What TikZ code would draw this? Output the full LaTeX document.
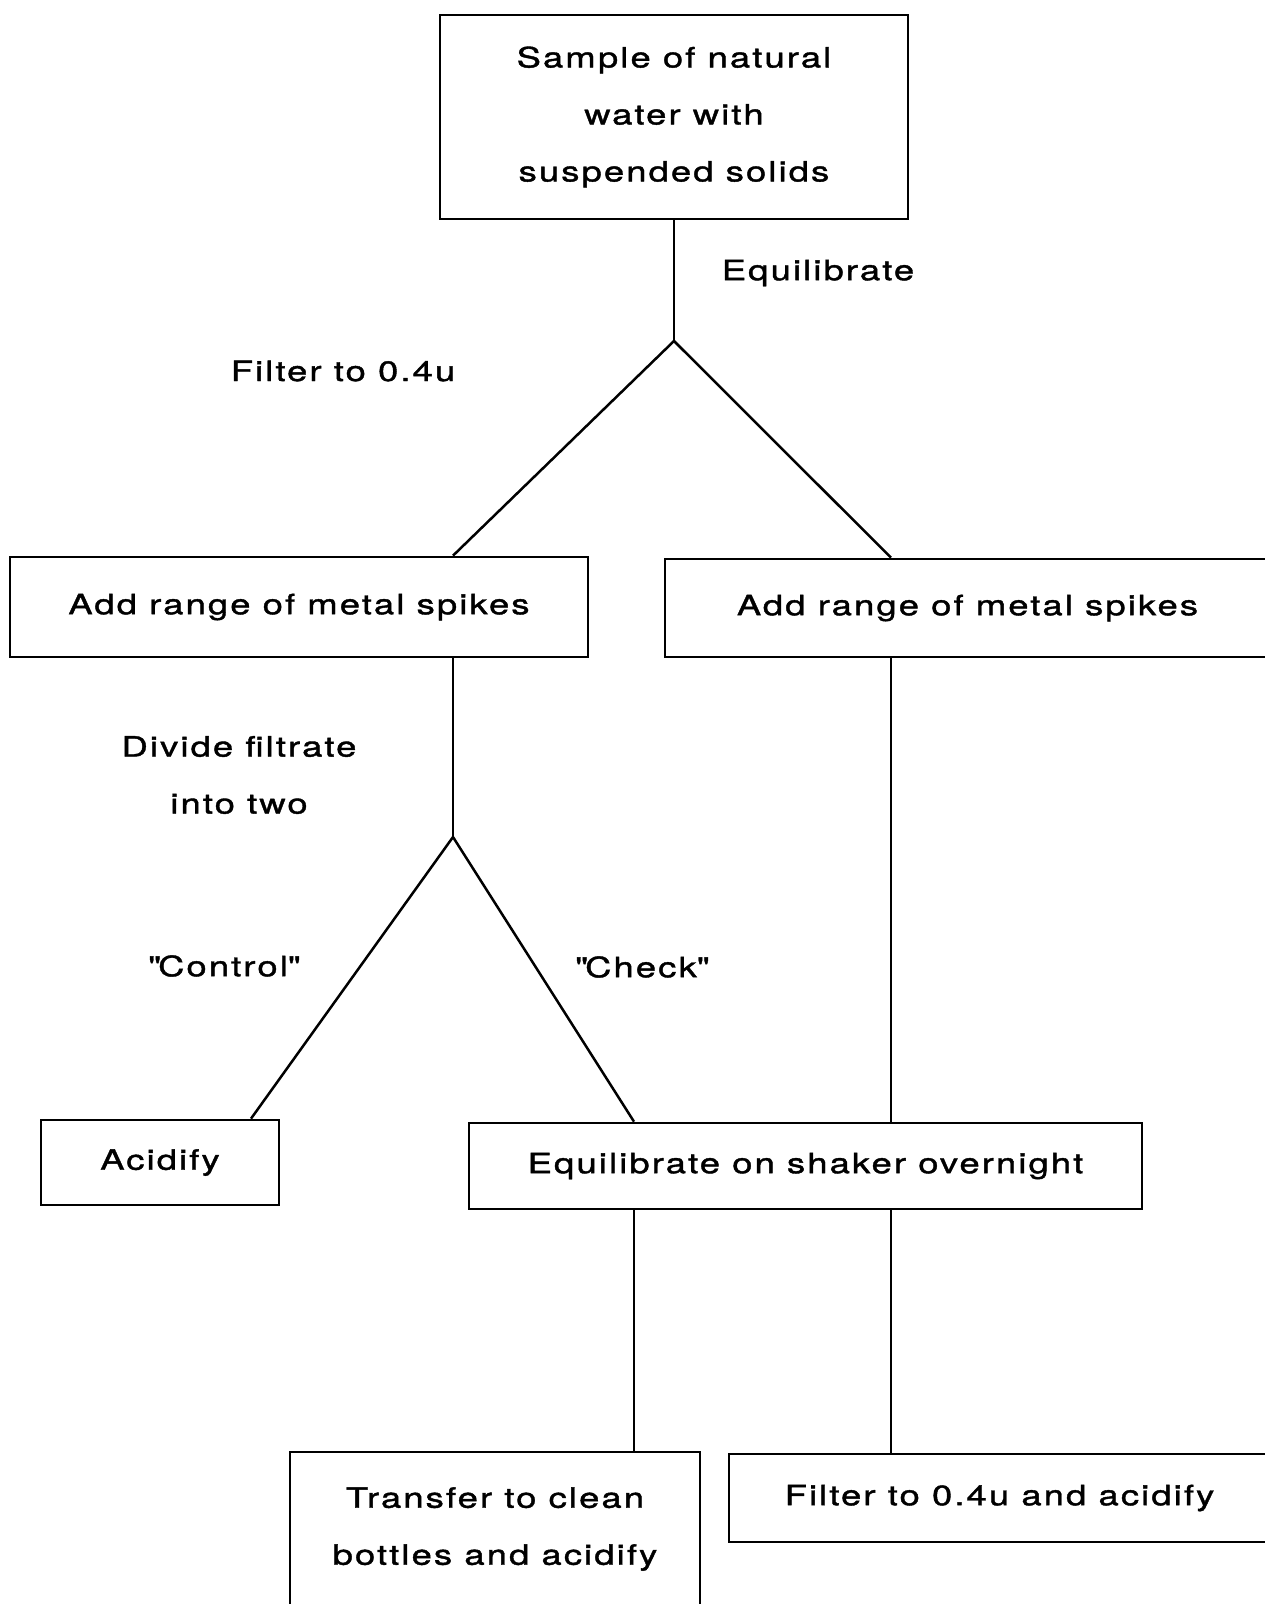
\documentclass[tikz,border=0pt]{standalone}
\usepackage{fontspec}
\setmainfont[FakeStretch=1.3,LetterSpace=7.5,FakeBold=1.4]{TeX Gyre Heros}
\begin{document}
\begin{tikzpicture}[x=1pt,y=-1pt,line width=2.5pt,
  font=\fontsize{28}{57}\selectfont,
  box/.style={draw,line width=2.7pt,inner sep=0pt,align=center},
  lbl/.style={inner sep=0pt,align=center}]
\useasboundingbox (0,0) rectangle (1265,1604);
\clip (0,0) rectangle (1265,1604);
% boxes
\node[box,minimum width=468,minimum height=204] (top) at (674,117)
  {Sample of natural\\water with\\suspended solids};
\node[box,minimum width=578,minimum height=100] (left) at (299,607)
  {Add range of metal spikes};
\node[box,minimum width=605,minimum height=98] (right) at (967.5,608)
  {Add range of metal spikes};
\node[box,minimum width=238,minimum height=85] (acid) at (160,1162.5)
  {Acidify};
\node[box,minimum width=673,minimum height=86] (equil) at (805.5,1166)
  {Equilibrate on shaker overnight};
\node[box,minimum width=410,minimum height=154] (transfer) at (495,1529)
  {Transfer to clean\\bottles and acidify};
\node[box,minimum width=541,minimum height=88] (filter) at (999.5,1498)
  {Filter to 0.4u and acidify};
% labels
\node[lbl] (leq) at (818,273) {Equilibrate};
\node[lbl] (lfil) at (343,371) {Filter to 0.4u};
\node[lbl] (ldiv) at (239,775) {Divide filtrate\\into two};
\node[lbl] (lctl) at (223,966) {\textquotedbl Control\textquotedbl};
\node[lbl] (lchk) at (641,967) {\textquotedbl Check\textquotedbl};
% junctions
\coordinate (apexA) at (674,341);
\coordinate (apexB) at (453,837);
\coordinate (rcol) at (891,900);
% connectors
\draw (top.south) -- (apexA);
\draw (apexA) -- (apexB |- left.north);
\draw (apexA) -- (rcol |- right.north);
\draw (left.south -| apexB) -- (apexB);
\draw (apexB) -- ([xshift=91pt]acid.north);
\draw (apexB) -- ([xshift=-171.5pt]equil.north);
\draw (right.south -| rcol) -- (rcol |- equil.north);
\draw ([xshift=-171.5pt]equil.south) -- ([xshift=139pt]transfer.north);
\draw (equil.south -| rcol) -- (rcol |- filter.north);
\end{tikzpicture}
\end{document}
